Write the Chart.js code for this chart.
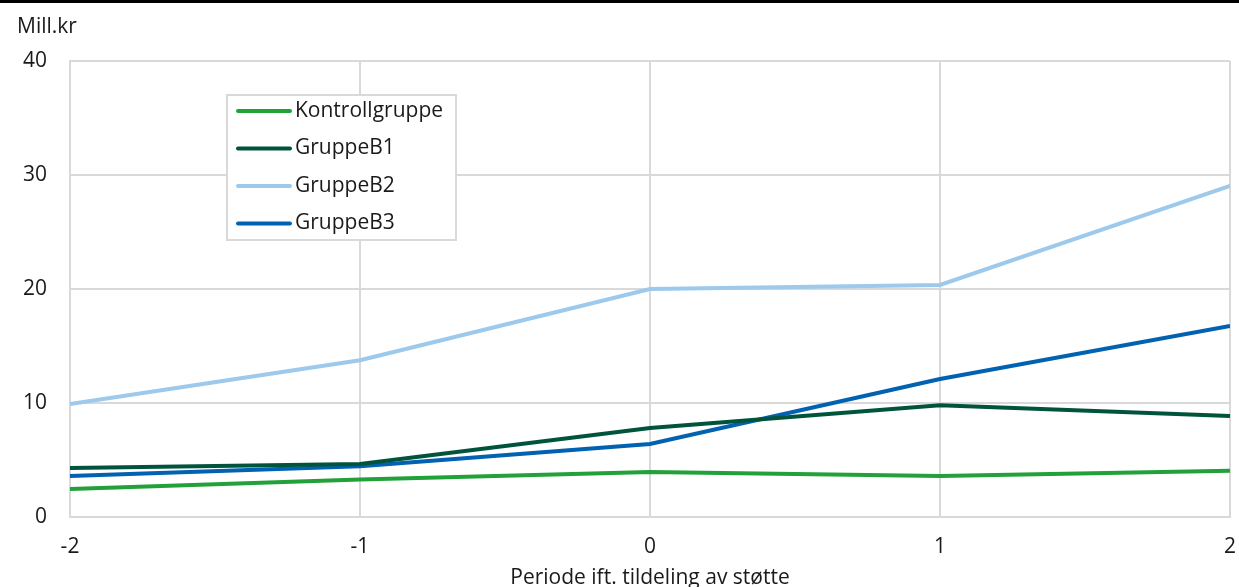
<!DOCTYPE html>
<html>
<head>
<meta charset="utf-8">
<script src="https://cdn.jsdelivr.net/npm/chart.js@4/dist/chart.umd.min.js"></script>
<style>
  html, body { margin: 0; padding: 0; background: #fff; }
  #wrap { position: relative; width: 1239px; height: 587px; }
</style>
</head>
<body>
<div id="wrap"><canvas id="c" width="1239" height="587"></canvas></div>
<script>
const periods = [-2, -1, 0, 1, 2];
const yTicks = [0, 10, 20, 30, 40];

const kontroll = [2.45, 3.3, 3.95, 3.6, 4.05];
const gruppeB1 = [4.3, 4.65, 7.8, 9.8, 8.85];
const gruppeB2 = [9.9, 13.75, 20.0, 20.35, 29.05];
const gruppeB3 = [3.6, 4.45, 6.4, 12.1, 16.75];

const seriesNames = ['Kontrollgruppe', 'GruppeB1', 'GruppeB2', 'GruppeB3'];
const seriesColors = ['#22a03a', '#00543c', '#9cc9ec', '#0062b0'];
const seriesValues = [kontroll, gruppeB1, gruppeB2, gruppeB3];

const FONT = "'Open Sans', 'Noto Sans', sans-serif";
const GRID = '#d9d9d9';
const TXT = '#1a1a1a';

// legend box drawn inside the plot, plus the black rule at the top and "Mill.kr"
const extras = {
  id: 'extras',
  afterDraw(chart) {
    const ctx = chart.ctx;
    ctx.save();
    ctx.fillStyle = '#000';
    ctx.fillRect(0, 0, chart.width, 3);

    ctx.font = '21px ' + FONT;
    ctx.fillStyle = TXT;
    ctx.textBaseline = 'middle';
    ctx.textAlign = 'left';
    ctx.fillText('Mill.kr', 17, 27);

    // legend
    const bx = 227, by = 95, bw = 229, bh = 145;
    ctx.fillStyle = '#fff';
    ctx.fillRect(bx, by, bw, bh);
    ctx.strokeStyle = GRID;
    ctx.lineWidth = 2;
    ctx.strokeRect(bx, by, bw, bh);
    chart.data.datasets.forEach((ds, i) => {
      const y = 111 + i * 37.5;
      ctx.strokeStyle = ds.borderColor;
      ctx.lineWidth = 4;
      ctx.lineCap = 'round';
      ctx.beginPath();
      ctx.moveTo(238, y);
      ctx.lineTo(290, y);
      ctx.stroke();
      ctx.fillStyle = TXT;
      ctx.fillText(ds.label, 295, y);
    });
    ctx.restore();
  }
};

new Chart(document.getElementById('c'), {
  type: 'line',
  data: {
    datasets: seriesNames.map((name, i) => ({
      label: name,
      data: periods.map((p, j) => ({ x: p, y: seriesValues[i][j] })),
      borderColor: seriesColors[i],
      backgroundColor: seriesColors[i],
      borderWidth: 4,
      pointRadius: 0,
      tension: 0,
      fill: false
    }))
  },
  options: {
    responsive: false,
    animation: false,
    layout: { padding: { top: 61, right: 0, left: 0, bottom: 0 } },
    plugins: {
      legend: { display: false },
      tooltip: { enabled: false }
    },
    scales: {
      x: {
        type: 'linear',
        min: -2,
        max: 2,
        afterBuildTicks: s => { s.ticks = periods.map(v => ({ value: v })); },
        afterFit: s => { s.height = 70; },
        ticks: { color: TXT, font: { family: FONT, size: 21 }, padding: 3 },
        grid: { color: GRID, lineWidth: 2, drawTicks: true, tickLength: 14, tickColor: 'rgba(0,0,0,0)' },
        border: { color: GRID, width: 2 },
        title: {
          display: true,
          text: 'Periode ift. tildeling av støtte',
          color: TXT,
          font: { family: FONT, size: 21 },
          padding: { top: 0, bottom: -4 }
        }
      },
      y: {
        min: 0,
        max: 40,
        afterBuildTicks: s => { s.ticks = yTicks.map(v => ({ value: v })); },
        afterFit: s => { s.width = 70; },
        ticks: { color: TXT, font: { family: FONT, size: 21 }, padding: 23 },
        grid: { color: GRID, lineWidth: 2, drawTicks: false },
        border: { color: GRID, width: 2 }
      }
    }
  },
  plugins: [extras]
});
</script>
</body>
</html>
